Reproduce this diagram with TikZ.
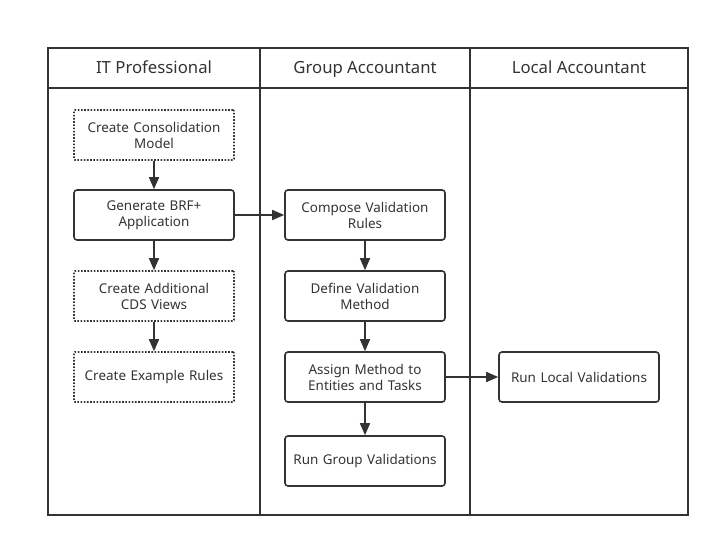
\documentclass[tikz,border=0pt]{standalone}
\usepackage{fontspec}
\setmainfont{Noto Sans}
\usetikzlibrary{arrows.meta}
\definecolor{linegray}{HTML}{333333}
\begin{document}
\begin{tikzpicture}[x=1bp, y=-1bp, >={Triangle[length=12bp,width=10bp]},
  task/.style={draw=linegray, line width=1.6bp, rounded corners=3bp, minimum width=160bp,
    minimum height=50bp, align=center, inner sep=0pt, text width=156bp,
    font=\fontsize{13.5}{16}\selectfont, text=linegray},
  plan/.style={task, dash pattern=on 1.6bp off 1.6bp, rounded corners=1bp},
  lane/.style={font=\fontsize{16.8}{19}\selectfont, text=linegray, anchor=base},
  flow/.style={->, draw=linegray, line width=1.6bp}]
  \useasboundingbox (0,0) rectangle (720,547);

  % Rahmen und Bahnen
  \draw[linegray, line width=2bp] (48,48) rectangle (688,515);
  \draw[linegray, line width=2bp] (48,88) -- (688,88);
  \draw[linegray, line width=2bp] (260,48) -- (260,515);
  \draw[linegray, line width=2bp] (470,48) -- (470,515);

  % Kopfzeile
  \node[lane] (itpro) at (154,74) {IT Professional};
  \node[lane] (group) at (365,74) {Group Accountant};
  \node[lane] (local) at (579,74) {Local Accountant};

  % IT Professional
  \node[plan] (model) at (154,135) {Create Consolidation\\Model};
  \node[task] (brf) at (154,215) {Generate BRF+\\Application};
  \node[plan] (cds) at (154,296) {Create Additional\\CDS Views};
  \node[plan] (example) at (154,377) {Create Example Rules};

  % Group Accountant
  \node[task] (compose) at (365,215) {Compose Validation\\Rules};
  \node[task] (define) at (365,296) {Define Validation\\Method};
  \node[task] (assign) at (365,377) {Assign Method to\\Entities and Tasks};
  \node[task] (rungroup) at (365,461) {Run Group Validations};

  % Local Accountant
  \node[task] (runlocal) at (579,377) {Run Local Validations};

  % Pfeile
  \draw[flow] (model) -- (brf);
  \draw[flow] (brf) -- (cds);
  \draw[flow] (cds) -- (example);
  \draw[flow] (brf) -- (compose);
  \draw[flow] (compose) -- (define);
  \draw[flow] (define) -- (assign);
  \draw[flow] (assign) -- (rungroup);
  \draw[flow] (assign) -- (runlocal);
\end{tikzpicture}
\end{document}
